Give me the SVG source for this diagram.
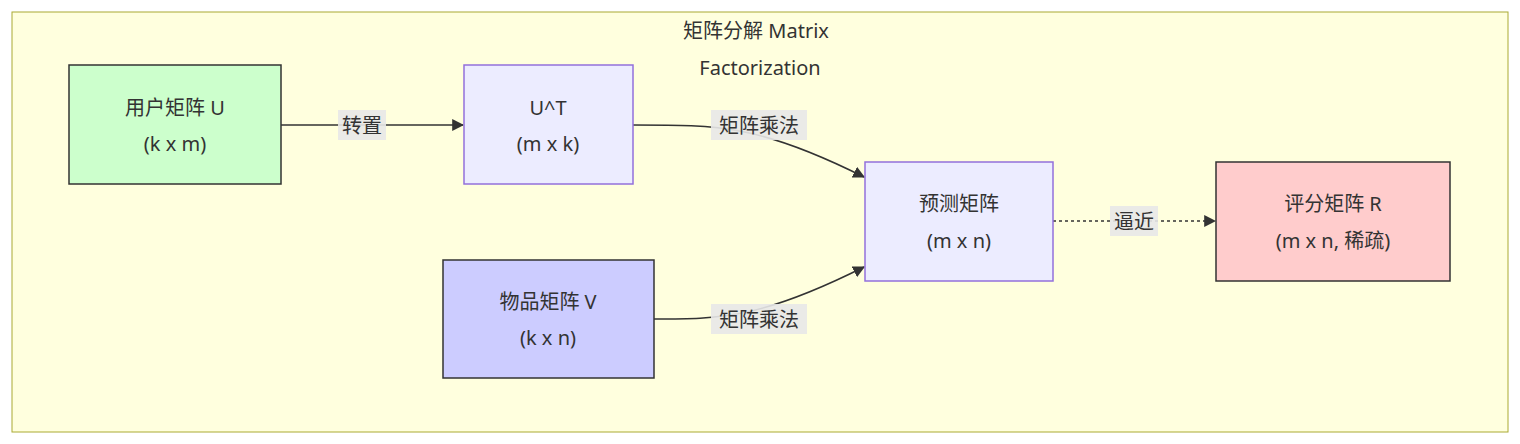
<svg xmlns="http://www.w3.org/2000/svg" width="1520" height="444" viewBox="0 0 1520 444">
<defs>
<style>
text{font-family:"Noto Sans","Noto Sans CJK SC",sans-serif;font-size:20px;fill:#333;text-anchor:middle;dominant-baseline:central}
.e{fill:none;stroke:#333;stroke-width:1.5}
.lb{fill:#e8e8e8;opacity:0.9}
</style>
<marker id="a" viewBox="0 0 10 10" refX="9" refY="5" markerWidth="8" markerHeight="8" orient="auto"><path d="M0,0L10,5L0,10z" fill="#333"/></marker>
</defs>
<rect x="12" y="12" width="1496" height="420" fill="#ffffde" stroke="#aaaa33"/>
<text x="756" y="30">矩阵分解 Matrix</text>
<text x="760" y="67">Factorization</text>
<g id="edges">
<path class="e" d="M281,125H463" marker-end="url(#a)"/>
<path class="e" d="M633,125C720,125 760,125 864,177" marker-end="url(#a)"/>
<path class="e" d="M654,319C720,319 760,319 864,267" marker-end="url(#a)"/>
<path class="e" d="M1053,221H1215" stroke-dasharray="3,3" marker-end="url(#a)"/>
<rect class="lb" x="338" y="110" width="48" height="30"/><text x="362" y="125">转置</text>
<rect class="lb" x="711" y="110" width="96" height="30"/><text x="759" y="125">矩阵乘法</text>
<rect class="lb" x="711" y="304" width="96" height="30"/><text x="759" y="319">矩阵乘法</text>
<rect class="lb" x="1110" y="206" width="48" height="30"/><text x="1134" y="221">逼近</text>
</g>
<g id="U"><rect x="69" y="65" width="212" height="119" fill="#ccffcc" stroke="#333" stroke-width="1.5"/><text x="175" y="107">用户矩阵 U</text><text x="175" y="143">(k x m)</text></g>
<g id="UT"><rect x="464" y="65" width="169" height="119" fill="#ececff" stroke="#9370db" stroke-width="1.5"/><text x="548" y="107">U^T</text><text x="548" y="143">(m x k)</text></g>
<g id="V"><rect x="443" y="260" width="211" height="118" fill="#ccccff" stroke="#333" stroke-width="1.5"/><text x="548" y="301">物品矩阵 V</text><text x="548" y="337">(k x n)</text></g>
<g id="P"><rect x="865" y="162" width="188" height="119" fill="#ececff" stroke="#9370db" stroke-width="1.5"/><text x="959" y="203">预测矩阵</text><text x="959" y="240">(m x n)</text></g>
<g id="R"><rect x="1216" y="162" width="234" height="119" fill="#ffcccc" stroke="#333" stroke-width="1.5"/><text x="1333" y="203">评分矩阵 R</text><text x="1333" y="240">(m x n, 稀疏)</text></g>
</svg>
